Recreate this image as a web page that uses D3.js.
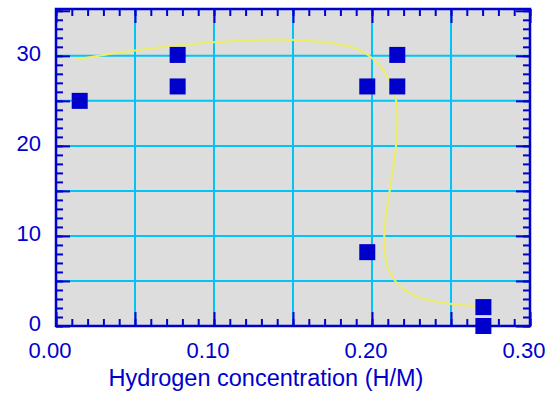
<!DOCTYPE html>
<html>
<head>
<meta charset="utf-8">
<script src="https://cdn.jsdelivr.net/npm/d3@7"></script>
<style>
  body { margin: 0; background: #fff; }
  svg { display: block; font-family: "Liberation Sans", Arial, sans-serif; }
</style>
</head>
<body>
<svg width="549" height="393"></svg>
<script>
// measured points (H/M, value)
const pointX = [0.015, 0.077, 0.077, 0.197, 0.216, 0.216, 0.197, 0.2705, 0.2705];
const pointY = [25.0, 30.1, 26.6, 26.6, 26.6, 30.1, 8.2, 2.1, 0.0];

// yellow trend curve
const curveX = [0.0127, 0.05, 0.1, 0.135, 0.165, 0.19, 0.2035, 0.211, 0.2152, 0.216, 0.2152, 0.2125, 0.2095, 0.2078, 0.2082, 0.2115, 0.2185, 0.2305, 0.2504, 0.2705];
const curveY = [29.6, 30.6, 31.5, 31.8, 31.6, 30.8, 29.2, 27.2, 25.1, 23.0, 20.0, 16.5, 13.0, 10.2, 7.9, 5.9, 4.3, 3.15, 2.45, 2.2];

const xTicks = [0, 0.1, 0.2, 0.3];
const xTickLabels = ["0.00", "0.10", "0.20", "0.30"];
const yTicks = [0, 10, 20, 30];
const yTickLabels = ["0", "10", "20", "30"];
const xTitle = "Hydrogen concentration (H/M)";

const blue = "#0000cc";
const grid = "#00c4f6";

const svg = d3.select("svg");
const x = d3.scaleLinear().domain([0, 0.3]).range([56, 530]);
const y = d3.scaleLinear().domain([0, 35.2]).range([326, 9]);

// plot background
svg.append("rect")
  .attr("x", x.range()[0]).attr("y", y.range()[1])
  .attr("width", x.range()[1] - x.range()[0])
  .attr("height", y.range()[0] - y.range()[1])
  .attr("fill", "#dcdddc");

// grid lines every 0.05 / 5
const gridX = d3.range(1, 6).map((i) => i * 0.05);
const gridY = d3.range(1, 7).map((i) => i * 5);
svg.append("g").selectAll("line").data(gridX).enter().append("line")
  .attr("x1", (d) => x(d)).attr("x2", (d) => x(d))
  .attr("y1", y.range()[1]).attr("y2", y.range()[0])
  .attr("stroke", grid).attr("stroke-width", 2);
svg.append("g").selectAll("line").data(gridY).enter().append("line")
  .attr("y1", (d) => y(d)).attr("y2", (d) => y(d))
  .attr("x1", x.range()[0]).attr("x2", x.range()[1])
  .attr("stroke", grid).attr("stroke-width", 2);

// ticks on all four sides, pointing inward
const minorX = d3.range(0, 31).map((i) => i / 100);
const minorY = d3.range(0, 36);
const majorX = d3.range(0, 7).map((i) => i * 0.05);
const majorY = d3.range(0, 8).map((i) => i * 5);

function tickAxis(axis, values, size, transform) {
  const g = svg.append("g")
    .attr("transform", transform)
    .call(axis.tickValues(values).tickSize(size).tickFormat(""));
  g.select(".domain").remove();
  g.selectAll("line").attr("stroke", blue).attr("stroke-width", 2);
}
tickAxis(d3.axisBottom(x), minorX, -7, `translate(0,${y(0)})`);
tickAxis(d3.axisBottom(x), majorX, -14, `translate(0,${y(0)})`);
tickAxis(d3.axisTop(x), minorX, -7, `translate(0,${y.range()[1]})`);
tickAxis(d3.axisTop(x), majorX, -14, `translate(0,${y.range()[1]})`);
tickAxis(d3.axisLeft(y), minorY, -7, `translate(${x(0)},0)`);
tickAxis(d3.axisLeft(y), majorY, -14, `translate(${x(0)},0)`);
tickAxis(d3.axisRight(y), minorY, -7, `translate(${x.range()[1]},0)`);
tickAxis(d3.axisRight(y), majorY, -14, `translate(${x.range()[1]},0)`);

// frame
svg.append("rect")
  .attr("x", x.range()[0]).attr("y", y.range()[1])
  .attr("width", x.range()[1] - x.range()[0])
  .attr("height", y.range()[0] - y.range()[1])
  .attr("fill", "none").attr("stroke", blue).attr("stroke-width", 2.5);

// tick labels
svg.append("g").selectAll("text").data(xTicks).enter().append("text")
  .attr("x", (d) => x(d) - 6).attr("y", 358)
  .attr("text-anchor", "middle").attr("font-size", 22).attr("fill", blue)
  .text((d, i) => xTickLabels[i]);
svg.append("g").selectAll("text").data(yTicks).enter().append("text")
  .attr("x", 41).attr("y", (d) => y(d) + 5)
  .attr("text-anchor", "end").attr("font-size", 22).attr("fill", blue)
  .text((d, i) => yTickLabels[i]);

svg.append("text")
  .attr("x", 266).attr("y", 386)
  .attr("text-anchor", "middle").attr("font-size", 23.5).attr("fill", blue)
  .text(xTitle);

// trend curve
const curve = curveX.map((d, i) => [x(d), y(curveY[i])]);
svg.append("path")
  .attr("d", d3.line().curve(d3.curveCatmullRom)(curve))
  .attr("fill", "none").attr("stroke", "#eeee66").attr("stroke-width", 2);

// markers
const size = 16;
svg.append("g").selectAll("rect").data(pointX).enter().append("rect")
  .attr("x", (d) => x(d) - size / 2)
  .attr("y", (d, i) => y(pointY[i]) - size / 2)
  .attr("width", size).attr("height", size)
  .attr("fill", blue);
</script>
</body>
</html>
